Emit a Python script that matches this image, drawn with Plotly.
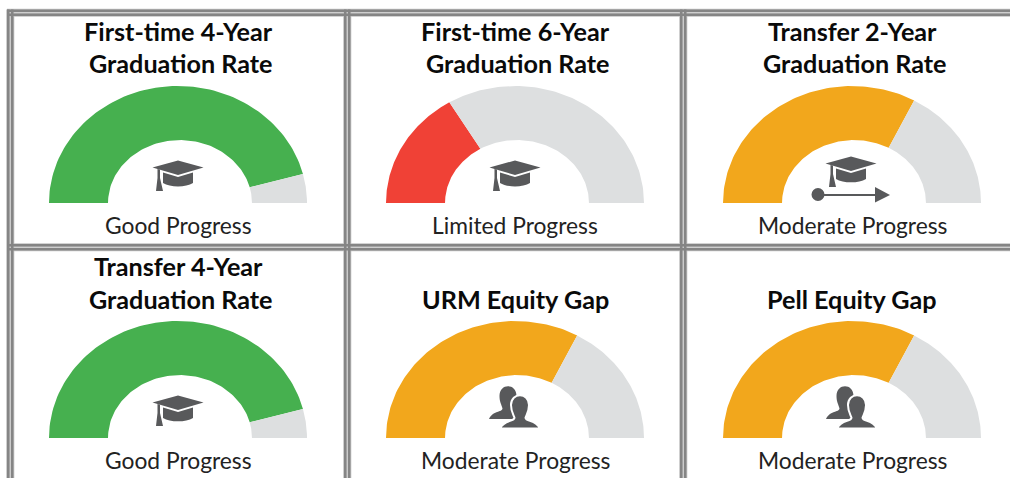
import numpy as np
import plotly.graph_objects as go

W, H = 1010, 478

# ---- data ----
titles = [
    ["First-time 4-Year", "Graduation Rate"],
    ["First-time 6-Year", "Graduation Rate"],
    ["Transfer 2-Year", "Graduation Rate"],
    ["Transfer 4-Year", "Graduation Rate"],
    ["URM Equity Gap"],
    ["Pell Equity Gap"],
]
statuses = ["Good Progress", "Limited Progress", "Moderate Progress",
            "Good Progress", "Moderate Progress", "Moderate Progress"]
progress = [0.92, 0.33, 0.66, 0.92, 0.66, 0.66]
icons = ["cap", "cap", "transfer", "cap", "people", "people"]
status_colors = {"Good Progress": "#46B04F", "Limited Progress": "#F04136",
                 "Moderate Progress": "#F2A71C"}
REST_COLOR = "#DDDFE0"
ICON_COLOR = "#58595B"
LINE_COLOR = "#858585"
HALO_COLOR = "#C4C4C4"
FONT = "Lato"

centers_x = [178, 515, 852]
bases_y = [203, 438]
RX, RY = 129, 117
INNER_X, INNER_Y = 0.558, 0.538
HOLE_SHIFT = 2 / RX


def px(x, y):
    return f"{x / W:.5f},{1 - y / H:.5f}"


def path(cmds):
    """cmds: list of (letter, x, y, x, y, ...) in pixel coordinates."""
    out = []
    for c in cmds:
        if c[0] == "Z":
            out.append("Z")
            continue
        pts = c[1:]
        out.append(c[0] + " ".join(px(pts[i], pts[i + 1]) for i in range(0, len(pts), 2)))
    return " ".join(out)


def ring(f0, f1):
    t = np.pi * (1 - np.linspace(f0, f1, 90))
    xo, yo = np.cos(t), np.sin(t)
    xi, yi = INNER_X * xo[::-1] + HOLE_SHIFT, INNER_Y * yo[::-1]
    return np.r_[xo, xi, xo[0]], np.r_[yo, yi, yo[0]]


def cap_shapes(cx, dy):
    y = lambda v: v + dy
    return [
        dict(path=path([("M", cx, y(160.5)), ("L", cx + 25.5, y(167.5)), ("L", cx, y(175)),
                        ("L", cx - 25.5, y(167.5)), ("Z",)])),
        dict(path=path([("M", cx - 15, y(172.5)), ("L", cx, y(177)), ("L", cx + 15, y(172.5)),
                        ("L", cx + 15, y(183)), ("C", cx + 8, y(187.5), cx - 8, y(187.5), cx - 15, y(183)), ("Z",)])),
        dict(path=path([("M", cx - 20.5, y(169)), ("L", cx - 18, y(169.5)), ("L", cx - 18, y(178)),
                        ("L", cx - 15, y(191)), ("L", cx - 22, y(191)), ("L", cx - 20.5, y(178)), ("Z",)])),
    ]


def person(cx, top, bottom, hw, sw):
    """A head-and-shoulders silhouette."""
    neck = top + (bottom - top) * 0.68
    return path([
        ("M", cx - hw, top + 10),
        ("C", cx - hw, top - 3, cx + hw, top - 3, cx + hw, top + 10),
        ("C", cx + hw, top + 16, cx + hw - 2, neck - 4, cx + 5.5, neck),
        ("C", cx + 6, neck + 4, cx + sw - 4, neck + 2, cx + sw, bottom),
        ("L", cx - sw, bottom),
        ("C", cx - sw + 4, neck + 2, cx - 6, neck + 4, cx - 5.5, neck),
        ("C", cx - hw + 2, neck - 4, cx - hw, top + 16, cx - hw, top + 10),
        ("Z",),
    ])


fig = go.Figure()
shapes = []
annotations = []

for i, (ttl, status, val, icon) in enumerate(zip(titles, statuses, progress, icons)):
    col, row = i % 3, i // 3
    cx, by = centers_x[col], bases_y[row]
    n = "" if i == 0 else str(i + 1)
    fig.update_layout({
        f"xaxis{n}": dict(domain=[(cx - RX) / W, (cx + RX) / W], range=[-1, 1], visible=False,
                          fixedrange=True, anchor=f"y{n}"),
        f"yaxis{n}": dict(domain=[1 - by / H, 1 - (by - RY) / H], range=[0, 1], visible=False,
                          fixedrange=True, anchor=f"x{n}"),
    })
    for f0, f1, color in [(0, val, status_colors[status]), (val, 1, REST_COLOR)]:
        xs, ys = ring(f0, f1)
        fig.add_trace(go.Scatter(x=xs, y=ys, xaxis=f"x{n}", yaxis=f"y{n}", mode="lines",
                                 fill="toself", fillcolor=color, line=dict(width=0),
                                 hoverinfo="skip", showlegend=False))

    # title lines
    line_ys = [31, 63] if row == 0 else [266, 299]
    if len(ttl) == 1:
        line_ys = line_ys[1:]
    for line, ly in zip(ttl, line_ys):
        off = 3 if line == "Graduation Rate" else 0
        annotations.append(dict(text=f"<b>{line}</b>", x=(cx + off) / W, y=1 - ly / H, xref="paper", yref="paper",
                                xanchor="center", yanchor="middle", showarrow=False,
                                font=dict(family=FONT, size=25.2, color="#0A0A0A")))
    annotations.append(dict(text=status, x=cx / W, y=1 - (by + 21.5) / H, xref="paper", yref="paper",
                            xanchor="center", yanchor="middle", showarrow=False,
                            font=dict(family=FONT, size=22.8, color="#222222")))

    # icons (decoration, in pixel positions)
    dy = by - 203
    if icon == "cap":
        for s in cap_shapes(cx, dy):
            shapes.append(dict(type="path", xref="paper", yref="paper", fillcolor=ICON_COLOR,
                               line=dict(width=0), **s))
    elif icon == "transfer":
        for s in cap_shapes(cx - 1, dy - 4):
            shapes.append(dict(type="path", xref="paper", yref="paper", fillcolor=ICON_COLOR,
                               line=dict(width=0), **s))
        shapes.append(dict(type="path", xref="paper", yref="paper", fillcolor=ICON_COLOR, line=dict(width=0),
                           path=path([("M", cx - 34, 194), ("L", cx + 23, 194), ("L", cx + 23, 187),
                                      ("L", cx + 38, 195), ("L", cx + 23, 202.5), ("L", cx + 23, 196),
                                      ("L", cx - 34, 196), ("Z",)])))
        shapes.append(dict(type="circle", xref="paper", yref="paper", fillcolor=ICON_COLOR, line=dict(width=0),
                           x0=(cx - 40.5) / W, x1=(cx - 27.5) / W, y0=1 - 201 / H, y1=1 - 188 / H))
    else:
        shapes.append(dict(type="path", xref="paper", yref="paper", fillcolor=ICON_COLOR, line=dict(width=0),
                           path=person(cx - 7, dy + 151, dy + 184, 8.5, 19)))
        shapes.append(dict(type="path", xref="paper", yref="paper", fillcolor=ICON_COLOR,
                           line=dict(width=2, color="white"),
                           path=person(cx + 5, dy + 160, dy + 193.5, 9, 20)))

# double-line cell borders
v_bands = [(7, 9.5), (11, 13.5), (344, 346.5), (348, 350.5), (680, 682.5), (684, 686.5)]
h_bands = [(9.5, 12), (13.5, 16), (244, 246.5), (248, 250.5)]
for pad, color in [(0.8, HALO_COLOR), (0, LINE_COLOR)]:
    for a, b in v_bands:
        shapes.append(dict(type="rect", xref="paper", yref="paper", x0=(a - pad) / W, x1=(b + pad) / W,
                           y0=0, y1=1 - 9.5 / H, fillcolor=color, line=dict(width=0)))
    for a, b in h_bands:
        shapes.append(dict(type="rect", xref="paper", yref="paper", x0=7 / W, x1=1,
                           y0=1 - (b + pad) / H, y1=1 - (a - pad) / H, fillcolor=color, line=dict(width=0)))

fig.update_layout(width=W, height=H, margin=dict(l=0, r=0, t=0, b=0), paper_bgcolor="white",
                  plot_bgcolor="white", shapes=shapes, annotations=annotations, showlegend=False)
fig.write_html("out.html", config={"displayModeBar": False},
               post_script="document.body.style.margin='0';")
